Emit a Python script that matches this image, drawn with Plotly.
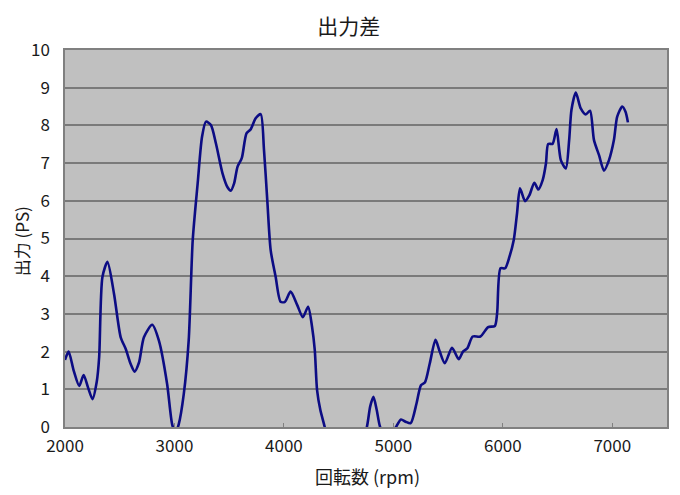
import plotly.graph_objects as go

rpm = [2000, 2033, 2080, 2130, 2170, 2210, 2251, 2290, 2312, 2342, 2388, 2448, 2509, 2555,
       2600, 2636, 2676, 2721, 2797, 2858, 2933, 2979, 3009, 3039, 3085, 3130, 3167, 3212,
       3252, 3288, 3333, 3379, 3439, 3485, 3515, 3545, 3576, 3615, 3658, 3697, 3742, 3788,
       3818, 3848, 3879, 3924, 3970, 4009, 4061, 4121, 4173, 4221, 4257, 4282, 4303, 4333,
       4373, 4450, 4550, 4650, 4758, 4788, 4818, 4848, 4879, 4950, 5024, 5070, 5112, 5158,
       5212, 5252, 5288, 5333, 5385, 5424, 5470, 5536, 5597, 5636, 5676, 5725, 5795, 5866,
       5927, 5948, 5979, 6021, 6061, 6100, 6130, 6157, 6203, 6243, 6288, 6324, 6364, 6394,
       6415, 6455, 6491, 6530, 6576, 6606, 6627, 6667, 6712, 6758, 6797, 6833, 6879, 6924,
       6970, 7015, 7045, 7091, 7121, 7143]
ps = [1.78, 2.00, 1.49, 1.09, 1.38, 1.05, 0.74, 1.20, 1.85, 3.98, 4.38, 3.53, 2.38, 2.07,
      1.67, 1.47, 1.71, 2.38, 2.71, 2.29, 1.14, 0.07, -0.15, 0.07, 0.87, 2.29, 4.96, 6.46,
      7.70, 8.10, 8.01, 7.52, 6.73, 6.36, 6.27, 6.46, 6.90, 7.13, 7.79, 7.90, 8.19, 8.30,
      7.35, 6.02, 4.69, 3.99, 3.32, 3.32, 3.59, 3.24, 2.91, 3.19, 2.66, 2.04, 0.98, 0.45,
      0.0, -1.0, -1.5, -1.0, 0.0, 0.54, 0.80, 0.45, 0.0, -0.4, 0.0, 0.20, 0.14, 0.10,
      0.63, 1.11, 1.18, 1.69, 2.31, 2.00, 1.69, 2.10, 1.80, 2.00, 2.09, 2.40, 2.40, 2.65,
      2.68, 3.02, 4.21, 4.21, 4.52, 4.96, 5.67, 6.33, 5.99, 6.15, 6.48, 6.30, 6.55, 6.99,
      7.51, 7.51, 7.90, 7.08, 6.86, 7.61, 8.41, 8.87, 8.45, 8.29, 8.39, 7.61, 7.21, 6.80,
      7.08, 7.61, 8.23, 8.50, 8.36, 8.08]

x_ticks = [2000, 3000, 4000, 5000, 6000, 7000]
y_ticks = list(range(0, 11))

FONT = "Noto Sans CJK JP"
TXT = "#1a1a1a"

fig = go.Figure()
fig.add_trace(go.Scatter(
    x=rpm, y=ps, mode="lines",
    line=dict(color="#0c0c84", width=2.6, shape="spline", smoothing=0.7),
    showlegend=False, hoverinfo="x+y",
))

fig.update_layout(
    width=680, height=495,
    margin=dict(l=65, r=13, t=50, b=68, autoexpand=False),
    paper_bgcolor="white",
    plot_bgcolor="#c0c0c0",
    font=dict(family=FONT, size=17, color=TXT),
    title=dict(text="出力差", x=0.513, xanchor="center", y=0.947, yanchor="middle",
               font=dict(family=FONT, size=21, color=TXT)),
    xaxis=dict(
        range=[2000, 7500], tickvals=x_ticks, ticktext=[str(v) for v in x_ticks],
        showgrid=False, zeroline=False,
        showline=True, linecolor="#808080", linewidth=1.5, mirror=True,
        ticks="inside", ticklen=4, tickcolor="#808080", ticklabelstandoff=3,
        tickfont=dict(size=17, color=TXT),
    ),
    yaxis=dict(
        range=[0, 10], tickvals=y_ticks, ticktext=[str(v) for v in y_ticks],
        showgrid=True, gridcolor="#7a7a7a", gridwidth=1.5, zeroline=False,
        showline=True, linecolor="#808080", linewidth=1.5, mirror=True,
        ticks="", ticklabelstandoff=10,
        tickfont=dict(size=17, color=TXT),
    ),
    annotations=[
        dict(text="回転数 (rpm)", xref="paper", yref="paper", x=0.502, y=-0.13,
             xanchor="center", yanchor="middle", showarrow=False,
             font=dict(family=FONT, size=18, color=TXT)),
        dict(text="出力 (PS)", xref="paper", yref="paper", x=-0.073, y=0.493,
             xanchor="center", yanchor="middle", showarrow=False, textangle=-90,
             font=dict(family=FONT, size=17, color=TXT)),
    ],
)

fig.write_html("out.html", config={"displayModeBar": False},
               post_script="document.body.style.margin='0px';")
